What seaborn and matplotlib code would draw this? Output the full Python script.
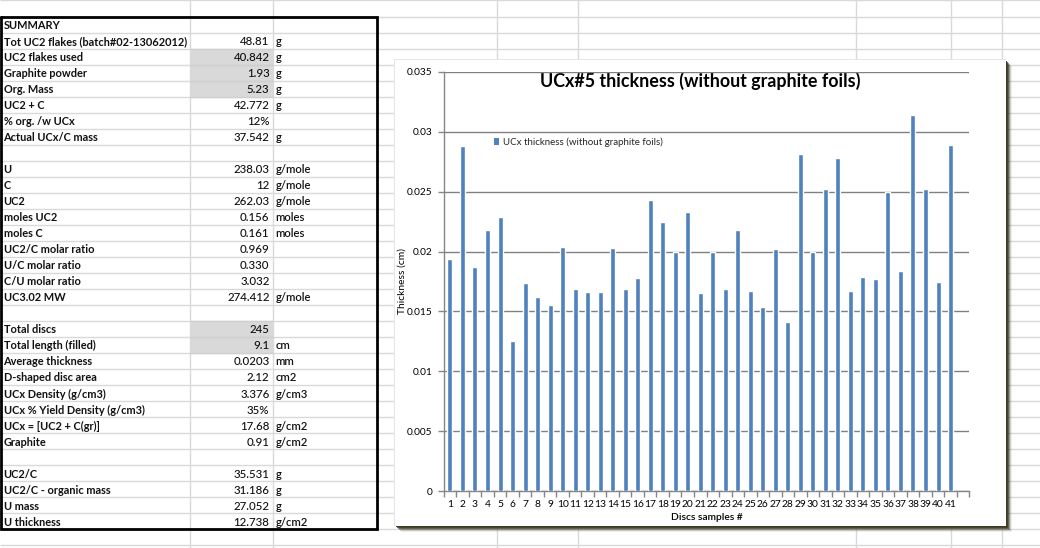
import matplotlib
matplotlib.use("Agg")
import matplotlib.pyplot as plt
from matplotlib.patches import Rectangle, Patch
from matplotlib.ticker import FixedLocator
import seaborn as sns

# ---------------- data ----------------
samples = [str(i) for i in range(1, 42)]
thickness = [0.0194, 0.0288, 0.0187, 0.0218, 0.0229, 0.0125, 0.0174, 0.0162, 0.0155, 0.0204,
             0.0169, 0.0166, 0.0166, 0.0203, 0.0169, 0.0178, 0.0243, 0.0225, 0.0200, 0.0233,
             0.0165, 0.0200, 0.0169, 0.0218, 0.0167, 0.0154, 0.0202, 0.0141, 0.0281, 0.0200,
             0.0252, 0.0278, 0.0167, 0.0179, 0.0177, 0.0250, 0.0184, 0.0314, 0.0252, 0.0175,
             0.0289]
y_ticks = [0, 0.005, 0.01, 0.015, 0.02, 0.025, 0.03, 0.035]
y_tick_labels = ["0", "0.005", "0.01", "0.015", "0.02", "0.025", "0.03", "0.035"]

title = "UCx#5 thickness (without graphite foils)"
series_name = "UCx thickness (without graphite foils)"
x_title = "Discs samples #"
y_title = "Thickness (cm)"

row_labels = ["SUMMARY", "Tot UC2 flakes (batch#02-13062012)", "UC2 flakes used", "Graphite powder",
              "Org. Mass", "UC2 + C", "% org. /w UCx", "Actual UCx/C mass", "",
              "U", "C", "UC2", "moles UC2", "moles C", "UC2/C molar ratio", "U/C molar ratio",
              "C/U molar ratio", "UC3.02 MW", "",
              "Total discs", "Total length (filled)", "Average thickness", "D-shaped disc area",
              "UCx Density (g/cm3)", "UCx % Yield Density (g/cm3)", "UCx = [UC2 + C(gr)]", "Graphite", "",
              "UC2/C", "UC2/C - organic mass", "U mass", "U thickness"]
row_values = ["", "48.81", "40.842", "1.93", "5.23", "42.772", "12%", "37.542", "",
              "238.03", "12", "262.03", "0.156", "0.161", "0.969", "0.330", "3.032", "274.412", "",
              "245", "9.1", "0.0203", "2.12", "3.376", "35%", "17.68", "0.91", "",
              "35.531", "31.186", "27.052", "12.738"]
row_units = ["", "g", "g", "g", "g", "g", "", "g", "",
             "g/mole", "g/mole", "g/mole", "moles", "moles", "", "", "", "g/mole", "",
             "", "cm", "mm", "cm2", "g/cm3", "", "g/cm2", "g/cm2", "",
             "g", "g", "g", "g/cm2"]
shaded_rows = [2, 3, 4, 19, 20]

# ---------------- style ----------------
sns.set_theme(style="white")
plt.rcParams["font.family"] = ["Lato", "DejaVu Sans"]

W, H = 1040, 548
fig = plt.figure(figsize=(W / 100, H / 100), dpi=100)
fig.patch.set_facecolor("white")

bg = fig.add_axes([0, 0, 1, 1])
bg.set_xlim(0, W)
bg.set_ylim(H, 0)
bg.axis("off")
bg.set_zorder(0)

grid_c = "#d9d9d9"
row_h = 16.03
top = 16.5
# spreadsheet gridlines
k = -1
while top + k * row_h < H:
    bg.hlines(top + k * row_h, 0, W, color=grid_c, lw=1, zorder=1)
    k += 1
for xc in [189.5, 272.7, 496.7, 578.3, 855.7, 950.7, 1001.7]:
    bg.vlines(xc, 0, H, color=grid_c, lw=1, zorder=1)

# shaded cells
for r in shaded_rows:
    bg.add_patch(Rectangle((189.5, top + r * row_h), 83.2, row_h, facecolor="#d9d9d9",
                           edgecolor="none", zorder=1.5))
    bg.hlines([top + r * row_h, top + (r + 1) * row_h], 189.5, 272.7, color="#cfcfcf", lw=1, zorder=1.6)

# table text
for i, (lab, val, un) in enumerate(zip(row_labels, row_values, row_units)):
    yc = top + (i + 0.55) * row_h
    if lab:
        bg.text(3.5, yc, lab, fontsize=7.9, fontweight="bold", va="center", ha="left", color="#111111", zorder=3)
    if val:
        bg.text(269.5, yc, val, fontsize=8.3, fontweight="medium", va="center", ha="right", color="#111111", zorder=3)
    if un:
        bg.text(275.5, yc, un, fontsize=8.1, fontweight="semibold", va="center", ha="left", color="#111111", zorder=3)

# thick table border
tb = top + 32 * row_h
bg.plot([1, 377, 377, 1, 1], [top, top, tb, tb, top], color="black", lw=2.0, zorder=4,
        solid_joinstyle="miter")

# chart panel with shadow
cx0, cy0, cx1, cy1 = 395, 60, 1006, 526
for off, a in [(7, 0.08), (6, 0.18), (5, 0.35), (4, 0.55), (3, 0.75), (2, 0.9)]:
    bg.add_patch(Rectangle((cx0 + off - 1, cy0 + off - 1), cx1 - cx0, cy1 - cy0,
                           facecolor="#3d3a24", edgecolor="none", alpha=a, zorder=5))
bg.add_patch(Rectangle((cx0 - 1.5, cy0 - 1.5), cx1 - cx0 + 1, cy1 - cy0 + 1,
                       facecolor="#e6e6e6", edgecolor="none", zorder=5.5))
bg.add_patch(Rectangle((cx0, cy0), cx1 - cx0, cy1 - cy0, facecolor="white", edgecolor="none", zorder=6))

# chart texts
bg.text(700, 81, title, fontsize=12.9, fontweight="bold", ha="center", va="center", color="black", zorder=7)
bg.text(707, 517.5, x_title, fontsize=7.4, fontweight="semibold", ha="center", va="center", color="black", zorder=7)
bg.text(402, 281.5, y_title, fontsize=7.4, rotation=90, ha="center", va="center", color="black", zorder=7)

# ---------------- chart axes ----------------
px0, px1, py0, py1 = 443.7, 969.3, 71.7, 491.3
ax = fig.add_axes([px0 / W, 1 - py1 / H, (px1 - px0) / W, (py1 - py0) / H])
ax.set_zorder(2)
ax.patch.set_alpha(0)

bar_c = "#4f81bd"
sns.barplot(x=samples, y=thickness, color=bar_c, saturation=1, width=0.4, ax=ax, zorder=3)

ax.set_xlim(-0.5, len(samples) + 0.5)
ax.set_ylim(0, 0.035)
ax.yaxis.set_major_locator(FixedLocator(y_ticks))
ax.set_yticklabels(y_tick_labels)
ax.yaxis.grid(True, color="#808080", lw=1, linestyle="-")
ax.xaxis.grid(False)
ax.set_axisbelow(True)
ax.set_xlabel("")
ax.set_ylabel("")

for s in ["top", "right"]:
    ax.spines[s].set_visible(False)
for s in ["left", "bottom"]:
    ax.spines[s].set_color("#868686")
    ax.spines[s].set_linewidth(1)

ax.tick_params(axis="y", which="major", direction="out", length=4, width=1, color="#868686",
               labelsize=7.3, pad=4, left=True, labelcolor="black")
ax.tick_params(axis="x", which="major", length=0, labelsize=7.4, pad=6.3, labelcolor="black")
ax.set_xticks(range(len(samples)))
ax.set_xticklabels(samples)
ax.xaxis.set_minor_locator(FixedLocator([i - 0.5 for i in range(len(samples) + 2)]))
ax.tick_params(axis="x", which="minor", direction="out", length=4, width=1, color="#868686", bottom=True)

ax.legend(handles=[Patch(facecolor=bar_c, edgecolor="none", label=series_name)],
          loc="upper left", bbox_to_anchor=((494 - px0) / (px1 - px0), 1 - (137 - py0) / (py1 - py0)),
          frameon=False, fontsize=7.0, handlelength=0.5, handleheight=0.75, handletextpad=0.45,
          borderaxespad=0, borderpad=0)

fig.savefig("out.png", dpi=100, facecolor="white")
